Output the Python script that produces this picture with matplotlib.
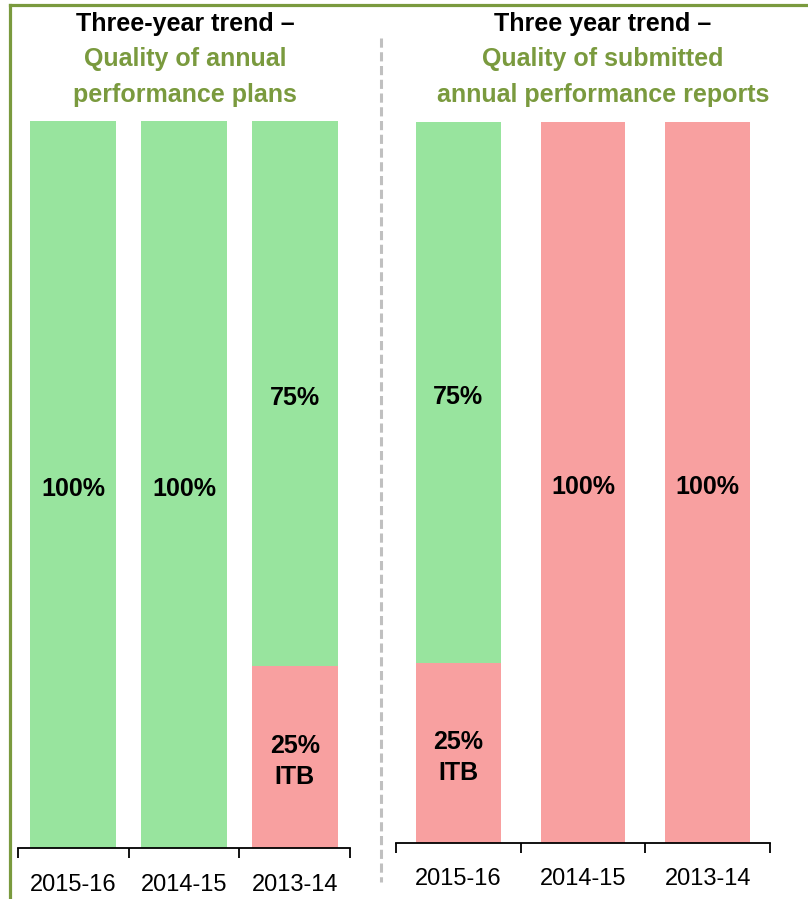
import matplotlib
matplotlib.use('Agg')
import matplotlib.pyplot as plt
from matplotlib.lines import Line2D

plt.rcParams['font.family'] = ['Liberation Sans Narrow', 'Liberation Sans', 'DejaVu Sans']

years = ['2015-16', '2014-15', '2013-14']
plans_ok = [100, 100, 75]
plans_itb = [0, 0, 25]
reports_ok = [75, 0, 0]
reports_itb = [25, 100, 100]

green = '#98E49E'
red = '#F8A0A0'
olive = '#7A9A3E'
W, H = 808, 899

fig = plt.figure(figsize=(W/100, H/100), dpi=100)

def px_axes(x0, x1, ytop, ybot):
    return fig.add_axes([x0/W, 1-ybot/H, (x1-x0)/W, (ybot-ytop)/H])

def panel(ax, ok, itb, width, pad):
    x = range(len(years))
    ax.bar(x, itb, width=width, color=red)
    ax.bar(x, ok, width=width, bottom=itb, color=green)
    for i in x:
        if ok[i] > 0:
            ax.text(i, itb[i] + ok[i]/2 - 0.6, f'{ok[i]}%', ha='center', va='center',
                    fontsize=18, fontweight='bold')
        if itb[i] > 0:
            lab = f'{itb[i]}%' if itb[i] == 100 else f'{itb[i]}%\nITB'
            ax.text(i, itb[i]/2 - 0.6, lab, ha='center', va='center',
                    fontsize=18, fontweight='bold', linespacing=1.35)
    ax.set_xlim(-0.5, len(years)-0.5)
    ax.set_ylim(0, 100)
    for s in ['top', 'left', 'right']:
        ax.spines[s].set_visible(False)
    ax.spines['bottom'].set_linewidth(1.3)
    ax.set_yticks([])
    ax.set_xticks([-0.5, 0.5, 1.5, 2.5])
    ax.set_xticklabels([])
    ax.set_xticks(list(x), minor=True)
    ax.set_xticklabels(years, minor=True, fontsize=17)
    ax.tick_params(axis='x', which='major', direction='out', length=7, width=1.3)
    ax.tick_params(axis='x', which='minor', length=0, pad=pad)

ax1 = px_axes(18, 350, 121, 848)
panel(ax1, plans_ok, plans_itb, 0.78, 19)
ax2 = px_axes(396, 770, 122, 843)
panel(ax2, reports_ok, reports_itb, 0.68, 18)

# titles
def title(xc, lines):
    ys = [24, 59, 95]
    for (txt, col), y in zip(lines, ys):
        fig.text(xc/W, 1-y/H, txt, ha='center', va='center', fontsize=18,
                 fontweight='bold', color=col)

title(185, [('Three-year trend \u2013', 'black'), ('Quality of annual', olive),
            ('performance plans', olive)])
title(603, [('Three year trend \u2013', 'black'), ('Quality of submitted', olive),
            ('annual performance reports', olive)])

# frame and separator
fig.add_artist(Line2D([10/W, 10/W], [0, 1-5/H], color=olive, lw=2.3))
fig.add_artist(Line2D([10/W, 1], [1-5/H, 1-5/H], color=olive, lw=2.3))
fig.add_artist(Line2D([381/W, 381/W], [1-38/H, 1-882/H], color='#C0C0C0',
                      lw=2.2, linestyle=(0, (3, 1.5))))

fig.savefig('out.png', dpi=100)
